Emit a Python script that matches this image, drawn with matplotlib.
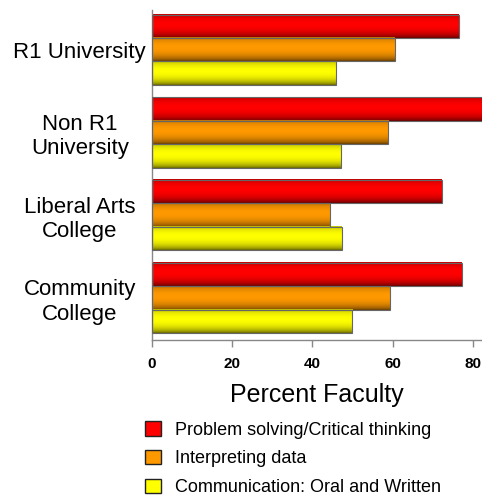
import numpy as np
import matplotlib.pyplot as plt
from matplotlib.patches import Patch

plt.rcParams['font.family'] = ['Liberation Sans', 'DejaVu Sans']

categories = ["R1 University", "Non R1\nUniversity", "Liberal Arts\nCollege", "Community\nCollege"]
series = ["Problem solving/Critical thinking", "Interpreting data", "Communication: Oral and Written"]
problem_solving = [76.5, 83.5, 72.3, 77.3]
interpreting = [60.5, 58.9, 44.5, 59.3]
communication = [45.8, 47.2, 47.3, 50.0]
colors = ["#ff0000", "#ff9900", "#ffff00"]

values = [problem_solving, interpreting, communication]
h = 0.283

# shading profile across bar height (dark edges, bright band)
t = np.linspace(0, 1, 60)
shade = 0.4 + 0.6 * np.clip(1 - ((t - 0.42) / 0.58) ** 2, 0, 1) ** 0.7

fig = plt.figure(figsize=(4.82, 5.0), dpi=100)
ax = fig.add_axes([152/482, 1 - 340/500, 330/482, 330/500])

y = np.arange(len(categories))
for k, (vals, c) in enumerate(zip(values, colors)):
    rgb = np.array(plt.matplotlib.colors.to_rgb(c))
    img = (shade[:, None] * rgb[None, :])[:, None, :]
    for i, v in enumerate(vals):
        yc = y[i] + (k - 1) * h
        ax.imshow(img, extent=(0, v, yc + h/2, yc - h/2), origin='upper',
                  aspect='auto', interpolation='bilinear', zorder=2)
    ax.barh(y + (k - 1) * h, vals, height=h, fill=False,
            edgecolor='#666666', linewidth=0.8, zorder=3)

ax.set_xlim(0, 82.3)
ax.set_ylim(3.51, -0.48)
ax.set_xticks([0, 20, 40, 60, 80])
ax.set_yticks(y)
ax.set_yticklabels(categories, ha='center', multialignment='center', fontsize=16)
ax.tick_params(axis='y', length=0, pad=52)
ax.tick_params(axis='x', length=5, color='#888888', width=1, labelsize=11, pad=7)
for lab in ax.get_xticklabels():
    lab.set_fontweight('bold')
for s in ['top', 'right']:
    ax.spines[s].set_visible(False)
for s in ['left', 'bottom']:
    ax.spines[s].set_color('#888888')
    ax.spines[s].set_linewidth(1)
ax.set_xlabel("Percent Faculty", fontsize=18, labelpad=9)

handles = [Patch(facecolor=c, edgecolor='#222222', linewidth=1) for c in colors]
fig.legend(handles, series, loc='upper left', bbox_to_anchor=(138/482, 1 - 414/500),
           frameon=False, fontsize=13, handlelength=0.85, handleheight=0.85,
           handletextpad=0.8, labelspacing=0.62, borderaxespad=0)

fig.savefig("out.png", dpi=100)
